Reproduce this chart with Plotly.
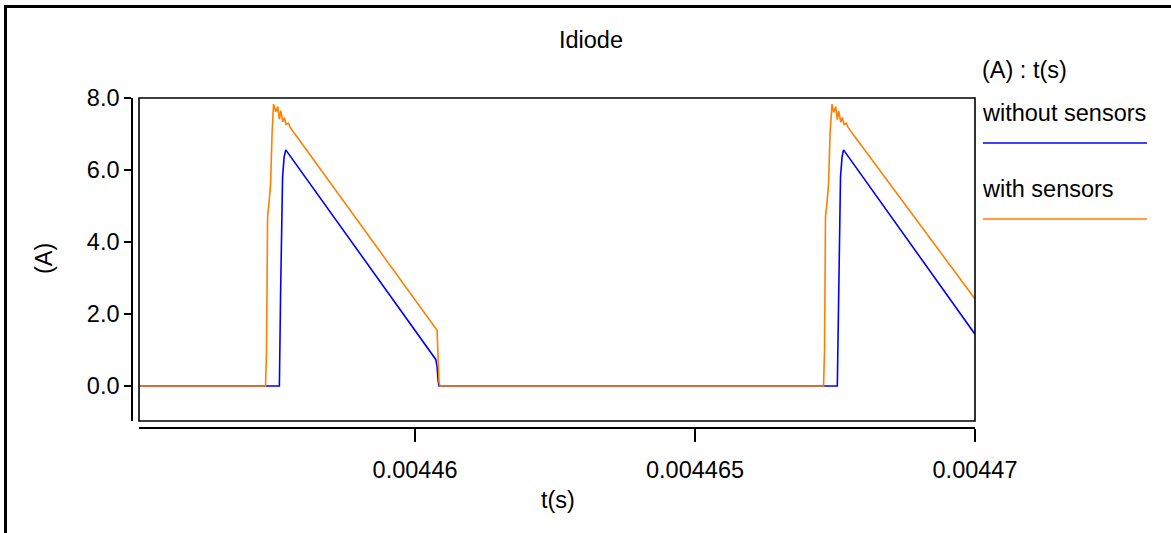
import plotly.graph_objects as go

# ---------------- data (time in microseconds, current in A) ----------------
T_WITHOUT_US = [4455.0, 4457.577, 4457.598, 4457.620, 4457.634, 4457.661, 4457.691,
                4460.370, 4460.393, 4460.411, 4460.429,
                4467.541, 4467.563, 4467.584, 4467.598, 4467.625, 4467.652, 4470.0]
I_WITHOUT = [0.0, 0.0, 2.5, 4.9, 5.8, 6.35, 6.56,
             0.74, 0.55, 0.15, 0.0,
             0.0, 2.5, 4.9, 5.8, 6.35, 6.56, 1.44]

T_WITH_US = [4455.0, 4457.330, 4457.348, 4457.366, 4457.393, 4457.420, 4457.446, 4457.473,
             4457.513, 4457.548, 4457.577, 4457.602, 4457.638, 4457.666, 4457.696, 4457.738,
             4457.768, 4457.798, 4457.827, 4457.888,
             4460.357, 4460.393, 4460.411, 4460.429, 4460.446,
             4467.295, 4467.313, 4467.330, 4467.357, 4467.384, 4467.411, 4467.446,
             4467.477, 4467.513, 4467.541, 4467.566, 4467.602, 4467.630, 4467.661, 4467.702,
             4467.732, 4467.763, 4467.791, 4467.852, 4470.0]
I_WITH = [0.0, 0.0, 1.0, 4.7, 5.1, 5.6, 7.0, 7.83,
          7.62, 7.76, 7.41, 7.65, 7.34, 7.46, 7.27, 7.30,
          7.19, 7.11, 7.06, 6.93,
          1.64, 1.55, 0.8, 0.1, 0.0,
          0.0, 1.0, 4.7, 5.1, 5.6, 7.0, 7.83,
          7.60, 7.76, 7.40, 7.64, 7.33, 7.46, 7.27, 7.30,
          7.19, 7.11, 7.06, 6.93, 2.42]

SERIES_NAMES = ["without sensors", "with sensors"]
X_TICK_VALS = [0.00446, 0.004465, 0.00447]
X_TICK_TEXT = ["0.00446", "0.004465", "0.00447"]
Y_TICK_VALS = [0.0, 2.0, 4.0, 6.0, 8.0]
X_RANGE = [0.00445507, 0.00447]
Y_RANGE = [-0.97, 8.0]

# ---------------- layout geometry ----------------
W, H = 1171, 533
ML, MR, MT, MB = 132, 196, 98, 105
PW, PH = W - ML - MR, H - MT - MB
BOX_L, BOX_B = 139, 421
FONT = dict(family="Liberation Sans, Arial, sans-serif", size=23.5, color="black")
BLUE = "#0000ff"
ORANGE = "#ff8000"


def px(x):
    return (x - ML) / PW


def py(y):
    return (H - MB - y) / PH


t_without = [t * 1e-6 for t in T_WITHOUT_US]
t_with = [t * 1e-6 for t in T_WITH_US]

fig = go.Figure()
fig.add_trace(go.Scatter(x=t_without, y=I_WITHOUT, mode="lines", name=SERIES_NAMES[0],
                         line=dict(color=BLUE, width=1.6)))
fig.add_trace(go.Scatter(x=t_with, y=I_WITH, mode="lines", name=SERIES_NAMES[1],
                         line=dict(color=ORANGE, width=1.6)))

fig.update_layout(
    width=W, height=H,
    margin=dict(l=ML, r=MR, t=MT, b=MB, pad=0),
    paper_bgcolor="white", plot_bgcolor="white",
    font=FONT,
    showlegend=False,
    title=dict(text="Idiode", x=591 / W, xanchor="center", y=1 - 40 / H, yanchor="middle",
               font=FONT),
    xaxis=dict(domain=[px(BOX_L), 1.0], range=X_RANGE, anchor="free", position=0,
               showgrid=False, zeroline=False, showline=True, linecolor="black", linewidth=1.6,
               ticks="outside", ticklen=13, tickwidth=1.6, tickcolor="black",
               ticklabelstandoff=8,
               tickvals=X_TICK_VALS, ticktext=X_TICK_TEXT, tickfont=FONT),
    yaxis=dict(domain=[py(BOX_B), 1.0], range=Y_RANGE, anchor="free", position=0,
               showgrid=False, zeroline=False, showline=True, linecolor="black", linewidth=1.6,
               ticks="outside", ticklen=7, tickwidth=1.6, tickcolor="black",
               tickvals=Y_TICK_VALS, tickformat=".1f", tickfont=FONT),
)

shapes = [
    # plot box
    dict(type="rect", xref="x domain", yref="y domain", x0=0, x1=1, y0=0, y1=1,
         line=dict(color="black", width=1.6), layer="above"),
    # outer frame (left & top)
    dict(type="line", xref="paper", yref="paper", x0=px(5.5), x1=px(5.5), y0=py(5), y1=py(540),
         line=dict(color="black", width=3)),
    dict(type="line", xref="paper", yref="paper", x0=px(4), x1=px(1180), y0=py(6.5), y1=py(6.5),
         line=dict(color="black", width=3)),
    # legend swatches
    dict(type="line", xref="paper", yref="paper", x0=px(983), x1=px(1147), y0=py(143), y1=py(143),
         line=dict(color=BLUE, width=1.6)),
    dict(type="line", xref="paper", yref="paper", x0=px(983), x1=px(1147), y0=py(219), y1=py(219),
         line=dict(color=ORANGE, width=1.6)),
]
fig.update_layout(shapes=shapes)

annotations = [
    dict(text="(A) : t(s)", x=px(980), y=py(70), xref="paper", yref="paper",
         xanchor="left", yanchor="middle", showarrow=False, font=FONT),
    dict(text=SERIES_NAMES[0], x=px(980), y=py(113), xref="paper", yref="paper",
         xanchor="left", yanchor="middle", showarrow=False, font=FONT),
    dict(text=SERIES_NAMES[1], x=px(980), y=py(189), xref="paper", yref="paper",
         xanchor="left", yanchor="middle", showarrow=False, font=FONT),
    dict(text="(A)", x=px(44), y=py(259), xref="paper", yref="paper", textangle=-90,
         xanchor="center", yanchor="middle", showarrow=False, font=FONT),
    dict(text="t(s)", x=px(558), y=py(500), xref="paper", yref="paper",
         xanchor="center", yanchor="middle", showarrow=False, font=FONT),
]
fig.update_layout(annotations=annotations)

fig.write_html("out.html",
               config={"displayModeBar": False},
               post_script="document.body.style.margin='0px';document.body.style.overflow='hidden';")
